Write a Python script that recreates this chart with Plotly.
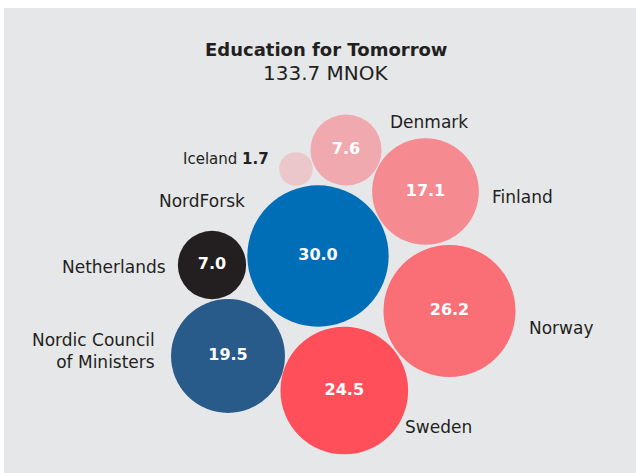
import plotly.graph_objects as go

# ---- data ----
names = ["NordForsk", "Norway", "Sweden", "Nordic Council of Ministers",
         "Finland", "Denmark", "Netherlands", "Iceland"]
values = [30.0, 26.2, 24.5, 19.5, 17.1, 7.6, 7.0, 1.7]
title_text = "Education for Tomorrow"
total_text = "133.7 MNOK"

# ---- layout (bubble centres in pixel-like coordinates) ----
bubble_x = [318, 449.5, 344.3, 228, 425.5, 346, 212, 296]
bubble_y = [256, 311, 390.5, 356, 191.5, 150, 265, 169]
colors = ["#006EB7", "#FA6E75", "#FF4F5A", "#285A8A",
          "#F58A90", "#F0A9AE", "#231F20", "#EBC7CB"]
inside_text = [f"{v:.1f}" if v >= 5 else "" for v in values]

# label positions: (x, y, xanchor, font size)
label_pos = {
    "NordForsk": (247, 201, "right", 17),
    "Norway": (527, 328, "left", 17),
    "Sweden": (403, 427, "left", 17),
    "Nordic Council of Ministers": (157, 351, "right", 17),
    "Finland": (490, 197, "left", 17),
    "Denmark": (388, 122, "left", 17),
    "Netherlands": (168, 267, "right", 17),
    "Iceland": (271, 159, "right", 15),
}

W, H = 636, 473
k = 12.9  # px radius per sqrt(value)
sizeref = 1.0 / (2 * k * k)

FONT = "DejaVu Sans"
TXT = "#231F20"

fig = go.Figure()
fig.add_trace(go.Scatter(
    x=bubble_x, y=bubble_y,
    mode="markers+text",
    text=inside_text,
    textposition="middle center",
    textfont=dict(family=FONT, size=16, color="white", weight="bold"),
    marker=dict(size=values, sizemode="area", sizeref=sizeref,
                color=colors, opacity=1, line=dict(width=0)),
    hovertext=names, hoverinfo="text",
    showlegend=False,
    cliponaxis=False,
))

annotations = []
for n, v in zip(names, values):
    x, y, anc, fs = label_pos[n]
    if n == "Nordic Council of Ministers":
        t = "Nordic Council<br>of Ministers"
    elif n == "Iceland":
        t = f"Iceland <b>{v:.1f}</b>"
    else:
        t = n
    annotations.append(dict(x=x, y=y, xref="x", yref="y", text=t,
                            showarrow=False, xanchor=anc, yanchor="middle",
                            align=anc, font=dict(family=FONT, size=fs, color=TXT)))

annotations.append(dict(x=326, y=49, xref="x", yref="y", text=f"<b>{title_text}</b>",
                        showarrow=False, xanchor="center", yanchor="middle",
                        font=dict(family=FONT, size=18, color=TXT)))
annotations.append(dict(x=326, y=73, xref="x", yref="y", text=total_text,
                        showarrow=False, xanchor="center", yanchor="middle",
                        font=dict(family=FONT, size=20, color=TXT)))

fig.update_layout(
    width=W, height=H,
    margin=dict(l=0, r=0, t=0, b=0),
    paper_bgcolor="white",
    plot_bgcolor="rgba(0,0,0,0)",
    xaxis=dict(range=[0, W], visible=False, fixedrange=True),
    yaxis=dict(range=[H, 0], visible=False, fixedrange=True),
    shapes=[dict(type="rect", xref="paper", yref="paper",
                 x0=4 / W, x1=1, y0=0, y1=1 - 8 / H,
                 fillcolor="#E6E7E9", line=dict(width=0), layer="below")],
    annotations=annotations,
)

fig.write_html("out.html", config={"displayModeBar": False},
               post_script="document.body.style.margin='0px';")
